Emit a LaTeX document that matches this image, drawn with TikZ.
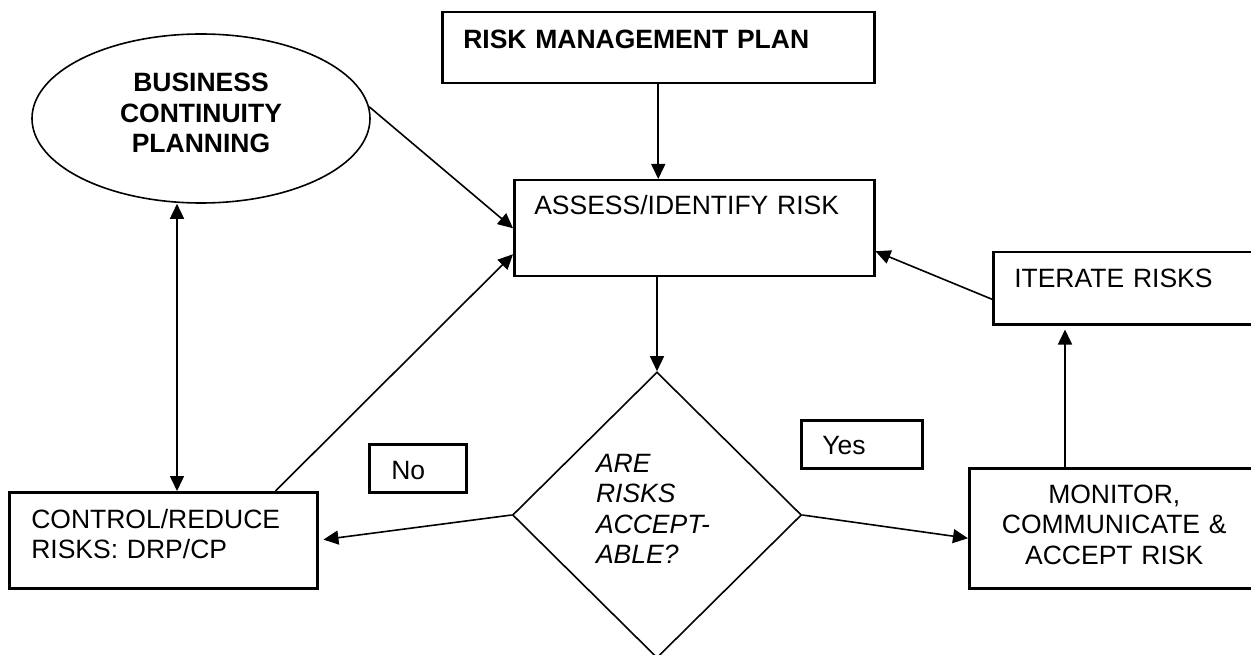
\documentclass[tikz,border=0pt]{standalone}
\usepackage{fontspec}
\setmainfont{Liberation Sans}
\usetikzlibrary{arrows.meta}
\usetikzlibrary{shapes.geometric}

\begin{document}
\fontsize{26.5}{30.5}\selectfont
\begin{tikzpicture}[x=1pt, y=-1pt,
  box/.style={draw, line width=2.5pt, anchor=north west, inner ysep=0pt, align=left},
  arr/.style={-{Triangle[length=15pt,width=14pt]}, line width=1.6pt}]
\useasboundingbox (0,0) rectangle (1251,655);
\node[box, inner xsep=21pt, text width=390pt, text height=36pt, text depth=35pt, font=\bfseries] (risk) at (441,11) {RISK MANAGEMENT PLAN};
\node[box, inner xsep=20pt, text width=320pt, text height=34pt, text depth=62pt] (assess) at (513,179) {ASSESS/IDENTIFY RISK};
\node[box, inner xsep=21pt, text width=240pt, text height=35pt, text depth=37pt] (iter) at (992,251) {ITERATE RISKS};
\node[box, inner xsep=10pt, text width=270pt, text height=35pt, text depth=85pt, align=center] (mon) at (968,467) {MONITOR,\\ COMMUNICATE \&\\ ACCEPT RISK};
\node[box, inner xsep=22pt, text width=264pt, text height=36pt, text depth=60pt] (ctrl) at (8,491) {CONTROL/REDUCE\\ RISKS: DRP/CP};
\node[box, inner xsep=22pt, text width=53pt, text height=35pt, text depth=13pt] (no) at (368,443) {No};
\node[box, inner xsep=21pt, text width=79pt, text height=34pt, text depth=14pt] (yes) at (800,419) {Yes};
\node[ellipse, draw, line width=1.6pt, minimum width=338pt, minimum height=169pt, inner sep=0pt, text width=200pt, align=center, text height=19pt, text depth=72pt, font=\bfseries] (bcp) at (201,118.5) {BUSINESS\\ CONTINUITY\\ PLANNING};
\node[diamond, draw, line width=1.6pt, minimum width=289pt, minimum height=286pt, inner sep=0pt, text width=122pt, align=left, text height=19pt, text depth=105pt, font=\itshape] (dia) at (657,515) {ARE\\ RISKS\\ ACCEPT-\\ ABLE?};
\coordinate (dbl) at (177,0);
\coordinate (up) at (1065,0);
\draw[arr] (risk.south) -- (risk.south |- assess.north);
\draw[arr] (bcp.4) -- (assess.west);
\draw[arr] ([xshift=-43pt]ctrl.north east) -- ([yshift=-26pt]assess.west);
\draw[arr] ([yshift=-11pt]iter.west) -- ([yshift=-23pt]assess.east);
\draw[arr] (assess.south -| dia.north) -- (dia.north);
\draw[arr, shorten >=5pt] (dia.west) -- (ctrl.east);
\draw[arr] (dia.east) -- ([yshift=-10pt]mon.west);
\draw[arr, shorten >=4pt] (mon.north -| up) -- (iter.south -| up);
\draw[arr, {Triangle[length=15pt,width=14pt]}-{Triangle[length=15pt,width=14pt]}] (bcp.south -| dbl) -- (ctrl.north -| dbl);
\end{tikzpicture}
\end{document}
